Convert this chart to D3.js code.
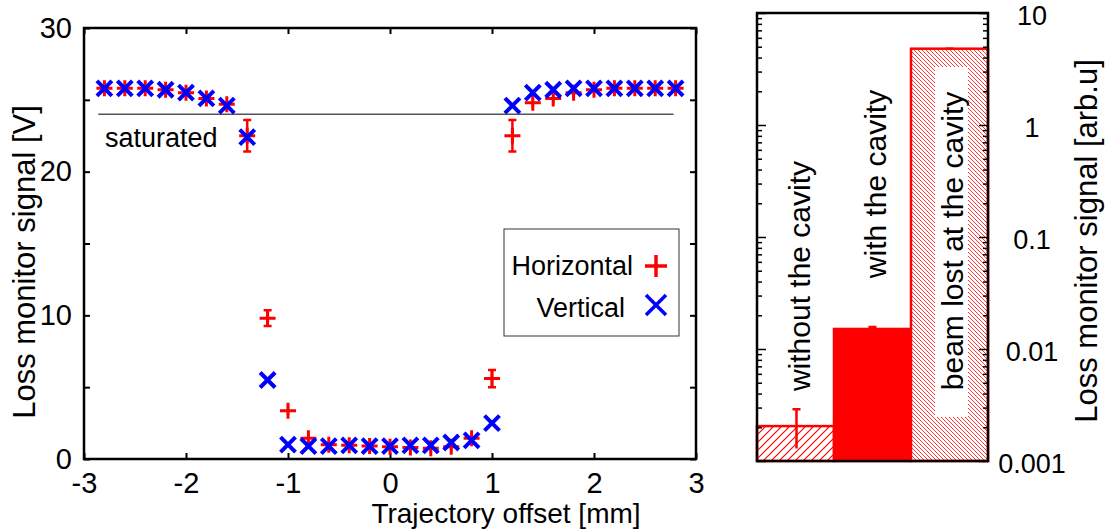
<!DOCTYPE html>
<html>
<head>
<meta charset="utf-8">
<script src="https://cdn.jsdelivr.net/npm/d3@7"></script>
<style>
  body { margin: 0; background: #fff; }
  svg { display: block; font-family: "Liberation Sans", Arial, Helvetica, sans-serif; }
</style>
</head>
<body>
<svg width="1105" height="531"></svg>
<script>
// trajectory scan (left panel)
const offsets = [-2.8, -2.6, -2.4, -2.2, -2.0, -1.8, -1.6, -1.4, -1.2, -1.0, -0.8, -0.6, -0.4, -0.2, 0.0,
  0.2, 0.4, 0.6, 0.8, 1.0, 1.2, 1.4, 1.6, 1.8, 2.0, 2.2, 2.4, 2.6, 2.8];
const horizontal = [25.8, 25.8, 25.8, 25.7, 25.5, 25.1, 24.7, 22.5, 9.8, 3.35, 1.45, 1.0, 0.95, 0.9, 0.85,
  0.8, 0.75, 0.85, 1.45, 5.6, 22.5, 24.8, 25.1, 25.5, 25.7, 25.8, 25.8, 25.8, 25.8];
const horizontalErr = [0.15, 0.15, 0.15, 0.15, 0.2, 0.2, 0.2, 1.1, 0.55, 0.3, 0.3, 0.2, 0.2, 0.2, 0.2,
  0.2, 0.35, 0.35, 0.3, 0.6, 1.1, 0.3, 0.35, 0.3, 0.15, 0.15, 0.15, 0.15, 0.15];
const vertical = [25.8, 25.8, 25.8, 25.7, 25.5, 25.1, 24.6, 22.4, 5.5, 1.0, 0.9, 0.9, 0.95, 0.9, 0.9,
  0.95, 0.95, 1.15, 1.3, 2.5, 24.6, 25.5, 25.7, 25.8, 25.8, 25.8, 25.8, 25.8, 25.8];
const xTicks = [-3, -2, -1, 0, 1, 2, 3];
const yTicks = [0, 5, 10, 15, 20, 25, 30];
const saturation = 24;

// loss comparison (right panel)
const cases = ["without the cavity", "with the cavity", "beam lost at the cavity"];
const caseSignal = [0.00205, 0.0151, 4.8];
const caseLow = [0.00129, 0.0149, 4.8];
const caseHigh = [0.0029, 0.0157, 4.8];
const logLabels = [0.001, 0.01, 0.1, 1, 10];

const svg = d3.select("svg");
const fs = 27;

// ---------- left panel ----------
const x = d3.scaleLinear().domain([-3, 3]).range([84, 696]);
const y = d3.scaleLinear().domain([0, 30]).range([459, 28]);

const left = svg.append("g");

left.append("g").attr("transform", "translate(0,459)")
  .call(d3.axisBottom(x).tickValues(xTicks).tickSize(-6).tickPadding(13).tickFormat(d => String(d)));
left.append("g").attr("transform", "translate(0,28)")
  .call(d3.axisTop(x).tickValues(xTicks).tickSize(-6).tickFormat(""));
left.append("g").attr("transform", "translate(84,0)")
  .call(d3.axisLeft(y).tickValues(yTicks).tickSize(-6).tickPadding(12)
    .tickFormat(d => (d % 10 === 0 ? String(d) : "")));
left.append("g").attr("transform", "translate(696,0)")
  .call(d3.axisRight(y).tickValues(yTicks).tickSize(-6).tickFormat(""));
left.selectAll(".domain").remove();
left.selectAll(".tick line").attr("stroke", "#000").attr("stroke-width", 2);
left.selectAll(".tick text").attr("font-size", 29).attr("fill", "#000").attr("font-family", null);

left.append("rect")
  .attr("x", 84).attr("y", 28).attr("width", 696 - 84).attr("height", 459 - 28)
  .attr("fill", "none").attr("stroke", "#000").attr("stroke-width", 2.5);

// saturation level
left.append("line")
  .attr("x1", x(-2.86)).attr("x2", x(2.78))
  .attr("y1", y(saturation)).attr("y2", y(saturation))
  .attr("stroke", "#555").attr("stroke-width", 1.5);
left.append("text").attr("x", 105).attr("y", 147)
  .attr("font-size", fs).text("saturated");

// horizontal: red plus with error bars
const hg = left.append("g").attr("stroke", "#ff0000").attr("fill", "none");
offsets.forEach((o, i) => {
  const cx = x(o), v = horizontal[i], e = horizontalErr[i];
  let d = `M${cx},${y(v - e)}V${y(v + e)}`;
  if (e > 0.5) d += `M${cx - 4},${y(v - e)}H${cx + 4}M${cx - 4},${y(v + e)}H${cx + 4}`;
  hg.append("path").attr("d", d).attr("stroke-width", 2.5);
  hg.append("path")
    .attr("transform", `translate(${cx},${y(v)})`)
    .attr("d", "M-8,0H8M0,-8V8")
    .attr("stroke-width", 3);
});

// vertical: blue cross
left.append("g").selectAll("path").data(offsets).join("path")
  .attr("transform", (o, i) => `translate(${x(o)},${y(vertical[i])})`)
  .attr("d", "M-7.5,-7.5L7.5,7.5M-7.5,7.5L7.5,-7.5")
  .attr("stroke", "#0000ff").attr("stroke-width", 4).attr("fill", "none");

// legend
const lg = left.append("g");
lg.append("rect").attr("x", 504).attr("y", 229).attr("width", 175).attr("height", 107)
  .attr("fill", "#fff").attr("stroke", "#333").attr("stroke-width", 1);
lg.append("text").attr("x", 633).attr("y", 275).attr("text-anchor", "end")
  .attr("font-size", fs).text("Horizontal");
lg.append("text").attr("x", 625).attr("y", 317).attr("text-anchor", "end")
  .attr("font-size", fs).text("Vertical");
lg.append("path").attr("transform", "translate(656,266)")
  .attr("d", "M-11,0H11M0,-11V11").attr("stroke", "#ff0000").attr("stroke-width", 3.5);
lg.append("path").attr("transform", "translate(656,305)")
  .attr("d", "M-10,-10L10,10M-10,10L10,-10").attr("stroke", "#0000ff").attr("stroke-width", 3.5);

// axis titles
left.append("text").attr("x", 506).attr("y", 523).attr("text-anchor", "middle")
  .attr("font-size", 28).text("Trajectory offset [mm]");
left.append("text").attr("transform", "translate(24,262) rotate(-90)")
  .attr("text-anchor", "middle").attr("dy", "0.35em").attr("font-size", 31)
  .text("Loss monitor signal [V]");

// ---------- right panel ----------
const bx = d3.scaleBand().domain(cases).range([757, 988]).padding(0);
const yl = d3.scaleLog().domain([0.001, 10]).range([461, 13]);

const defs = svg.append("defs");
const p1 = defs.append("pattern").attr("id", "hatchA").attr("patternUnits", "userSpaceOnUse")
  .attr("width", 8).attr("height", 8);
p1.append("rect").attr("width", 8).attr("height", 8).style("fill", "#fff");
p1.append("path").attr("d", "M-2,2L2,-2M0,8L8,0M6,10L10,6")
  .style("stroke", "#ff0000").style("stroke-width", 1.2).style("fill", "none");
const p2 = defs.append("pattern").attr("id", "hatchB").attr("patternUnits", "userSpaceOnUse")
  .attr("width", 4).attr("height", 4);
p2.append("rect").attr("width", 4).attr("height", 4).style("fill", "#fff");
p2.append("path").attr("d", "M-1,-1L5,5M-1,3L1,5M3,-1L5,1")
  .style("stroke", "#ff2020").style("stroke-width", 0.9).style("fill", "none");

const right = svg.append("g");
const fills = ["url(#hatchA)", "#ff0000", "url(#hatchB)"];

right.selectAll("rect.bar").data(cases).join("rect").attr("class", "bar")
  .attr("x", d => bx(d)).attr("width", bx.bandwidth())
  .attr("y", (d, i) => yl(caseSignal[i]))
  .attr("height", (d, i) => yl(0.001) - yl(caseSignal[i]))
  .attr("fill", (d, i) => fills[i])
  .attr("stroke", "#ff0000").attr("stroke-width", 2.5);

// error bars
right.selectAll("path.err").data(cases).join("path").attr("class", "err")
  .attr("d", (d, i) => {
    const cx = bx(d) + bx.bandwidth() / 2 + (i === 0 ? 1 : 0);
    return `M${cx},${yl(caseLow[i])}V${yl(caseHigh[i])}M${cx - 4},${yl(caseHigh[i])}H${cx + 4}`;
  })
  .attr("stroke", "#ff0000").attr("stroke-width", 2.5).attr("fill", "none");

// white box behind last label
right.append("rect").attr("x", 935).attr("y", 67).attr("width", 33).attr("height", 350)
  .attr("fill", "#fff");

const labelPos = [[799, 276], [875, 184], [952, 241]];
right.selectAll("text.case").data(cases).join("text").attr("class", "case")
  .attr("transform", (d, i) => `translate(${labelPos[i][0]},${labelPos[i][1]}) rotate(-90)`)
  .attr("text-anchor", "middle").attr("dy", "0.35em")
  .attr("font-size", 30).text(d => d);

// log ticks, inward on both sides
const allTicks = yl.ticks();
const major = t => Math.abs(Math.log10(t) - Math.round(Math.log10(t))) < 1e-6;
right.append("g").attr("transform", "translate(757,0)")
  .call(d3.axisLeft(yl).tickValues(allTicks).tickFormat("").tickSize(0))
  .selectAll(".tick line").attr("x2", t => (major(t) ? 9 : 5));
right.append("g").attr("transform", "translate(988,0)")
  .call(d3.axisRight(yl).tickValues(allTicks).tickFormat("").tickSize(0))
  .selectAll(".tick line").attr("x2", t => (major(t) ? -9 : -5));
right.selectAll(".domain").remove();
right.selectAll(".tick line").attr("stroke", "#000").attr("stroke-width", 1.5);

right.append("rect").attr("x", 757).attr("y", 13).attr("width", 988 - 757).attr("height", 461 - 13)
  .attr("fill", "none").attr("stroke", "#000").attr("stroke-width", 2.5);

right.selectAll("text.lt").data(logLabels).join("text").attr("class", "lt")
  .attr("x", 1032).attr("y", d => yl(d) + 3).attr("dy", "0.35em")
  .attr("text-anchor", "middle").attr("font-size", fs)
  .text(d => d3.format("~g")(d));

right.append("text").attr("transform", "translate(1086,241) rotate(-90)")
  .attr("text-anchor", "middle").attr("dy", "0.35em").attr("font-size", 31)
  .text("Loss monitor signal [arb.u]");
</script>
</body>
</html>
